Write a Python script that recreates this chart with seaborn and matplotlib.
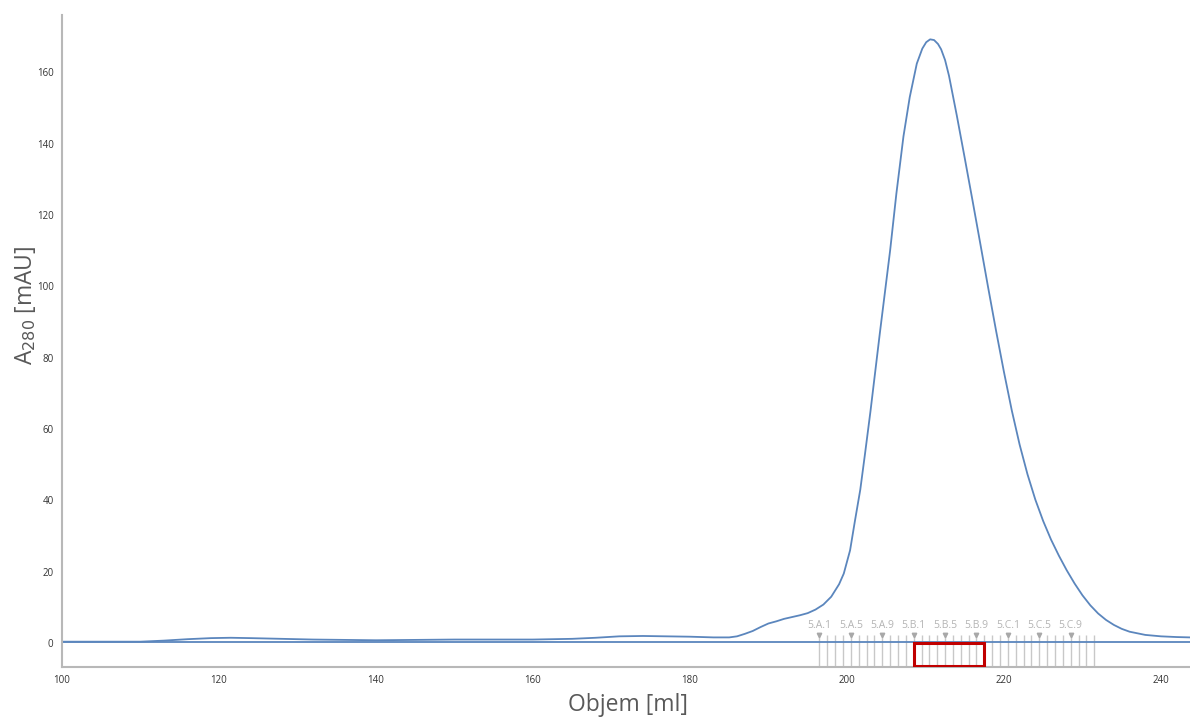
import numpy as np
import pandas as pd
import matplotlib
matplotlib.use("Agg")
import matplotlib.pyplot as plt
from matplotlib.patches import Rectangle
import seaborn as sns

# UV trace of the preparative run
volume_ml = [100, 105, 110, 113, 116, 119, 121.5, 124, 128, 132, 136, 140, 145, 150,
             155, 160, 165, 168, 171, 174, 177, 180, 183, 185, 186, 187, 188, 189,
             190, 191, 192, 193, 194, 195, 196, 197, 198, 199, 199.6, 200.4, 201,
             201.7, 202.3, 203, 204.2, 205.5, 206.3, 207.2, 208, 208.9, 209.6, 210.1,
             210.6, 211.1, 211.6, 212, 212.5, 213, 214, 215, 216, 217, 218, 219, 220,
             221, 222, 223, 224, 225, 226, 227, 228, 229, 230, 231, 232, 233, 234,
             235, 236, 238, 240, 242, 243.7]
a280_mau = [0.4, 0.4, 0.4, 0.7, 1.1, 1.4, 1.5, 1.4, 1.2, 1.0, 0.9, 0.8, 0.9, 1.0,
            1.0, 1.0, 1.2, 1.5, 1.9, 2.0, 1.9, 1.8, 1.6, 1.6, 1.9, 2.6, 3.4, 4.5,
            5.5, 6.1, 6.8, 7.3, 7.8, 8.4, 9.4, 10.8, 13.0, 16.5, 19.5, 26.0, 34.0,
            43.0, 53.0, 65.0, 87.0, 110.0, 126.0, 142.0, 153.0, 162.4, 166.6, 168.4,
            169.2, 169.0, 167.9, 166.4, 163.4, 159.0, 147.8, 136.0, 124.0, 111.8,
            99.5, 87.5, 76.0, 65.2, 55.6, 47.3, 40.2, 34.2, 29.0, 24.5, 20.4, 16.7,
            13.4, 10.6, 8.3, 6.5, 5.1, 4.0, 3.2, 2.3, 1.9, 1.7, 1.6]

# flat reference trace
ref_volume_ml = [100, 243.7]
ref_level_mau = [0.4, 0.4]

# fraction collector: 36 fractions of 1 ml, rows A-C of plate 5
frac_first_ml = 196.5
frac_size_ml = 1.0
frac_names = [f"5.{row}.{n}" for row in "ABC" for n in range(1, 13)]
labelled = ["5.A.1", "5.A.5", "5.A.9", "5.B.1", "5.B.5", "5.B.9",
            "5.C.1", "5.C.5", "5.C.9"]
pooled_first, pooled_last = "5.B.1", "5.B.9"

x_ticks = [100, 120, 140, 160, 180, 200, 220, 240]
y_ticks = [0, 20, 40, 60, 80, 100, 120, 140, 160]

sns.set_theme(style="white")
plt.rcParams["font.family"] = ["Open Sans", "DejaVu Sans"]

fig = plt.figure(figsize=(11.9, 7.18), dpi=100)
ax = fig.add_axes([0.052, 0.071, 0.948, 0.908])

line_col = "#5b86bd"
trace = pd.DataFrame({"vol": volume_ml, "abs": a280_mau})
ref = pd.DataFrame({"vol": ref_volume_ml, "abs": ref_level_mau})
sns.lineplot(data=ref, x="vol", y="abs", ax=ax, color=line_col, lw=1.3)
sns.lineplot(data=trace, x="vol", y="abs", ax=ax, color=line_col, lw=1.3)

ymin = -6.7
frac_col = "#c8c8c8"
frac_pos = [frac_first_ml + i * frac_size_ml for i in range(len(frac_names))]
ax.vlines(frac_pos, ymin, 2.2, colors=frac_col, lw=1.0, zorder=1)
for name, pos in zip(frac_names, frac_pos):
    if name in labelled:
        ax.plot(pos, 2.2, marker="v", ms=3.2, color="#a8a8a8", zorder=2)
        ax.text(pos, 4.8, name, ha="center", va="center", fontsize=7.5,
                color="#b4b4b4")

i0 = frac_names.index(pooled_first)
i1 = frac_names.index(pooled_last)
x0 = frac_pos[i0]
x1 = frac_pos[i1] + frac_size_ml
ax.add_patch(Rectangle((x0, -6.4), x1 - x0, 6.5, fill=False,
                       edgecolor="#c00000", lw=2.2, zorder=3))

ax.set_xlim(100, 243.7)
ax.set_ylim(ymin, 176)
ax.set_xticks(x_ticks)
ax.set_yticks(y_ticks)
ax.set_xticks([v + 10 for v in x_ticks[:-1]], minor=True)
ax.set_yticks([v + 10 for v in y_ticks], minor=True)

for s in ["top", "right"]:
    ax.spines[s].set_visible(False)
for s in ["left", "bottom"]:
    ax.spines[s].set_color("#b8b8b8")
    ax.spines[s].set_linewidth(1.5)

ax.tick_params(which="both", direction="inout", color="#9a9a9a", width=1.0,
               labelsize=7, labelcolor="#333333")
ax.tick_params(which="major", length=6)
ax.tick_params(which="minor", length=5)
ax.tick_params(axis="x", pad=3)
ax.tick_params(axis="y", pad=3)

ax.set_xlabel("Objem [ml]", fontsize=16.5, color="#595959")
ax.set_ylabel("A$_{280}$ [mAU]", fontsize=16.5, color="#595959")
ax.xaxis.label.set_va("center")
ax.yaxis.label.set_va("center")
ax.xaxis.set_label_coords(0.502, -0.058)
ax.yaxis.set_label_coords(-0.032, 0.555)
ax.grid(False)

fig.savefig("out.png", dpi=100)
